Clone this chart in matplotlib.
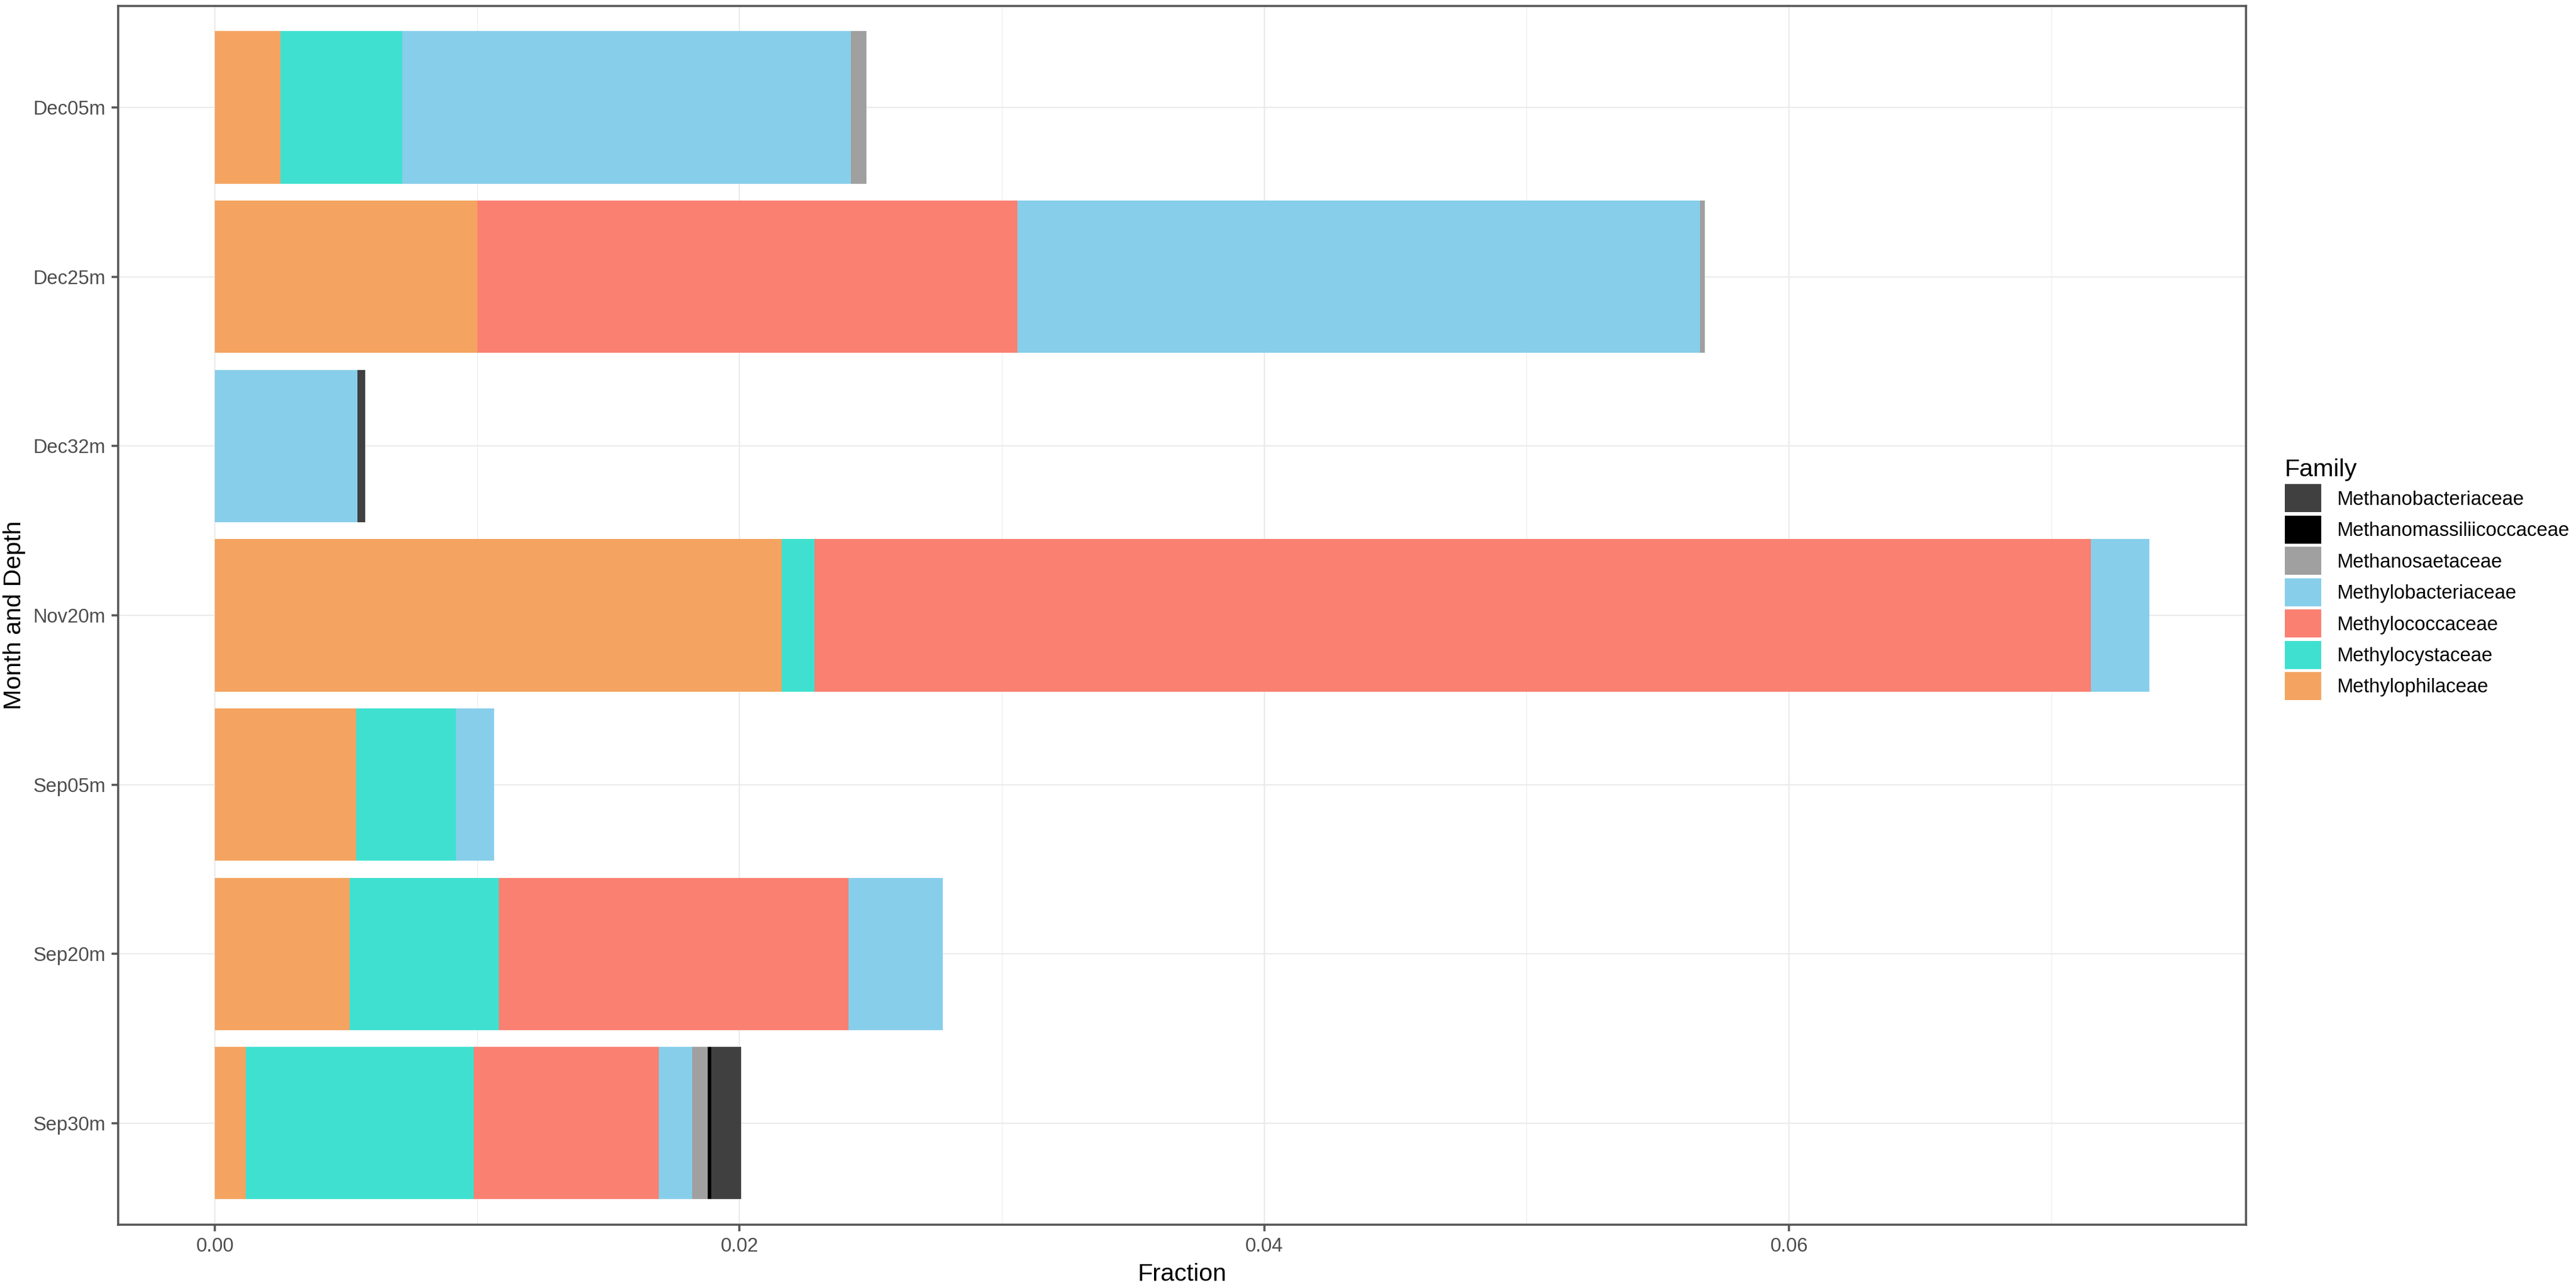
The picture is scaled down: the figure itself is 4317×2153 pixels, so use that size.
import numpy as np
import matplotlib.pyplot as plt

plt.rcParams['font.family'] = ['Liberation Sans', 'DejaVu Sans']

samples = ['Dec05m', 'Dec25m', 'Dec32m', 'Nov20m', 'Sep05m', 'Sep20m', 'Sep30m']

# legend order (ggplot factor levels); stacking goes from the last one outwards
families = ['Methanobacteriaceae', 'Methanomassiliicoccaceae', 'Methanosaetaceae',
            'Methylobacteriaceae', 'Methylococcaceae', 'Methylocystaceae', 'Methylophilaceae']
colors = ['#404040', '#000000', '#A0A0A0', '#87CEEB', '#FA8072', '#40E0D0', '#F4A460']

# fraction per sample, same order as samples
methanobacteriaceae = [0.0, 0.0, 0.0003, 0.0, 0.0, 0.0, 0.00112]
methanomassiliicoccaceae = [0.0, 0.0, 0.0, 0.0, 0.0, 0.0, 0.00014]
methanosaetaceae = [0.0006, 0.0002, 0.0, 0.0, 0.0, 0.0, 0.0006]
methylobacteriaceae = [0.0171, 0.0260, 0.00544, 0.00223, 0.00146, 0.00358, 0.00128]
methylococcaceae = [0.0, 0.0206, 0.0, 0.04864, 0.0, 0.01334, 0.00704]
methylocystaceae = [0.00464, 0.0, 0.0, 0.00126, 0.00379, 0.00569, 0.00869]
methylophilaceae = [0.0025, 0.0100, 0.0, 0.0216, 0.00539, 0.00513, 0.00118]

values = [methanobacteriaceae, methanomassiliicoccaceae, methanosaetaceae,
          methylobacteriaceae, methylococcaceae, methylocystaceae, methylophilaceae]

fig = plt.figure(figsize=(14.39, 7.177), dpi=300)
ax = fig.add_axes([0.04587, 0.0469, 0.8260, 0.9485])

y = np.arange(len(samples))[::-1]
left = np.zeros(len(samples))
handles = []
for fam, col, vals in zip(families[::-1], colors[::-1], values[::-1]):
    vals = np.array(vals)
    h = ax.barh(y, vals, left=left, height=0.9, color=col, label=fam, zorder=2)
    handles.append(h)
    left += vals

ax.set_yticks(y)
ax.set_yticklabels(samples)
ax.set_ylim(-0.6, len(samples) - 0.4)
xmax = left.max()
ax.set_xlim(-0.05 * xmax, 1.05 * xmax)
ax.set_xticks([0.0, 0.02, 0.04, 0.06])
ax.set_xticklabels(['0.00', '0.02', '0.04', '0.06'])
ax.set_xticks([0.01, 0.03, 0.05, 0.07], minor=True)

ax.grid(True, which='major', color='#EBEBEB', linewidth=0.55, zorder=0)
ax.grid(True, which='minor', axis='x', color='#EBEBEB', linewidth=0.28, zorder=0)
ax.set_axisbelow(True)
for s in ax.spines.values():
    s.set_color('#555555')
    s.set_linewidth(0.85)
ax.tick_params(which='major', length=2.6, width=0.85, color='#555555',
               labelsize=7.85, labelcolor='#4D4D4D', pad=2.4)
ax.tick_params(which='minor', length=0)

ax.set_xlabel('Fraction', fontsize=9.9, labelpad=3)
ax.set_ylabel('Month and Depth', fontsize=9.9, labelpad=3)

leg = fig.legend(handles[::-1], families, loc='upper left',
                 bbox_to_anchor=(3829 / 4317, 1 - 768 / 2153),
                 frameon=False, fontsize=7.85, title='Family', title_fontsize=9.9,
                 handlelength=1.87, handleheight=1.83, labelspacing=0.17,
                 handletextpad=0.8, borderpad=0, borderaxespad=0, alignment='left')

fig.savefig('out.png', dpi=300, facecolor='white')
